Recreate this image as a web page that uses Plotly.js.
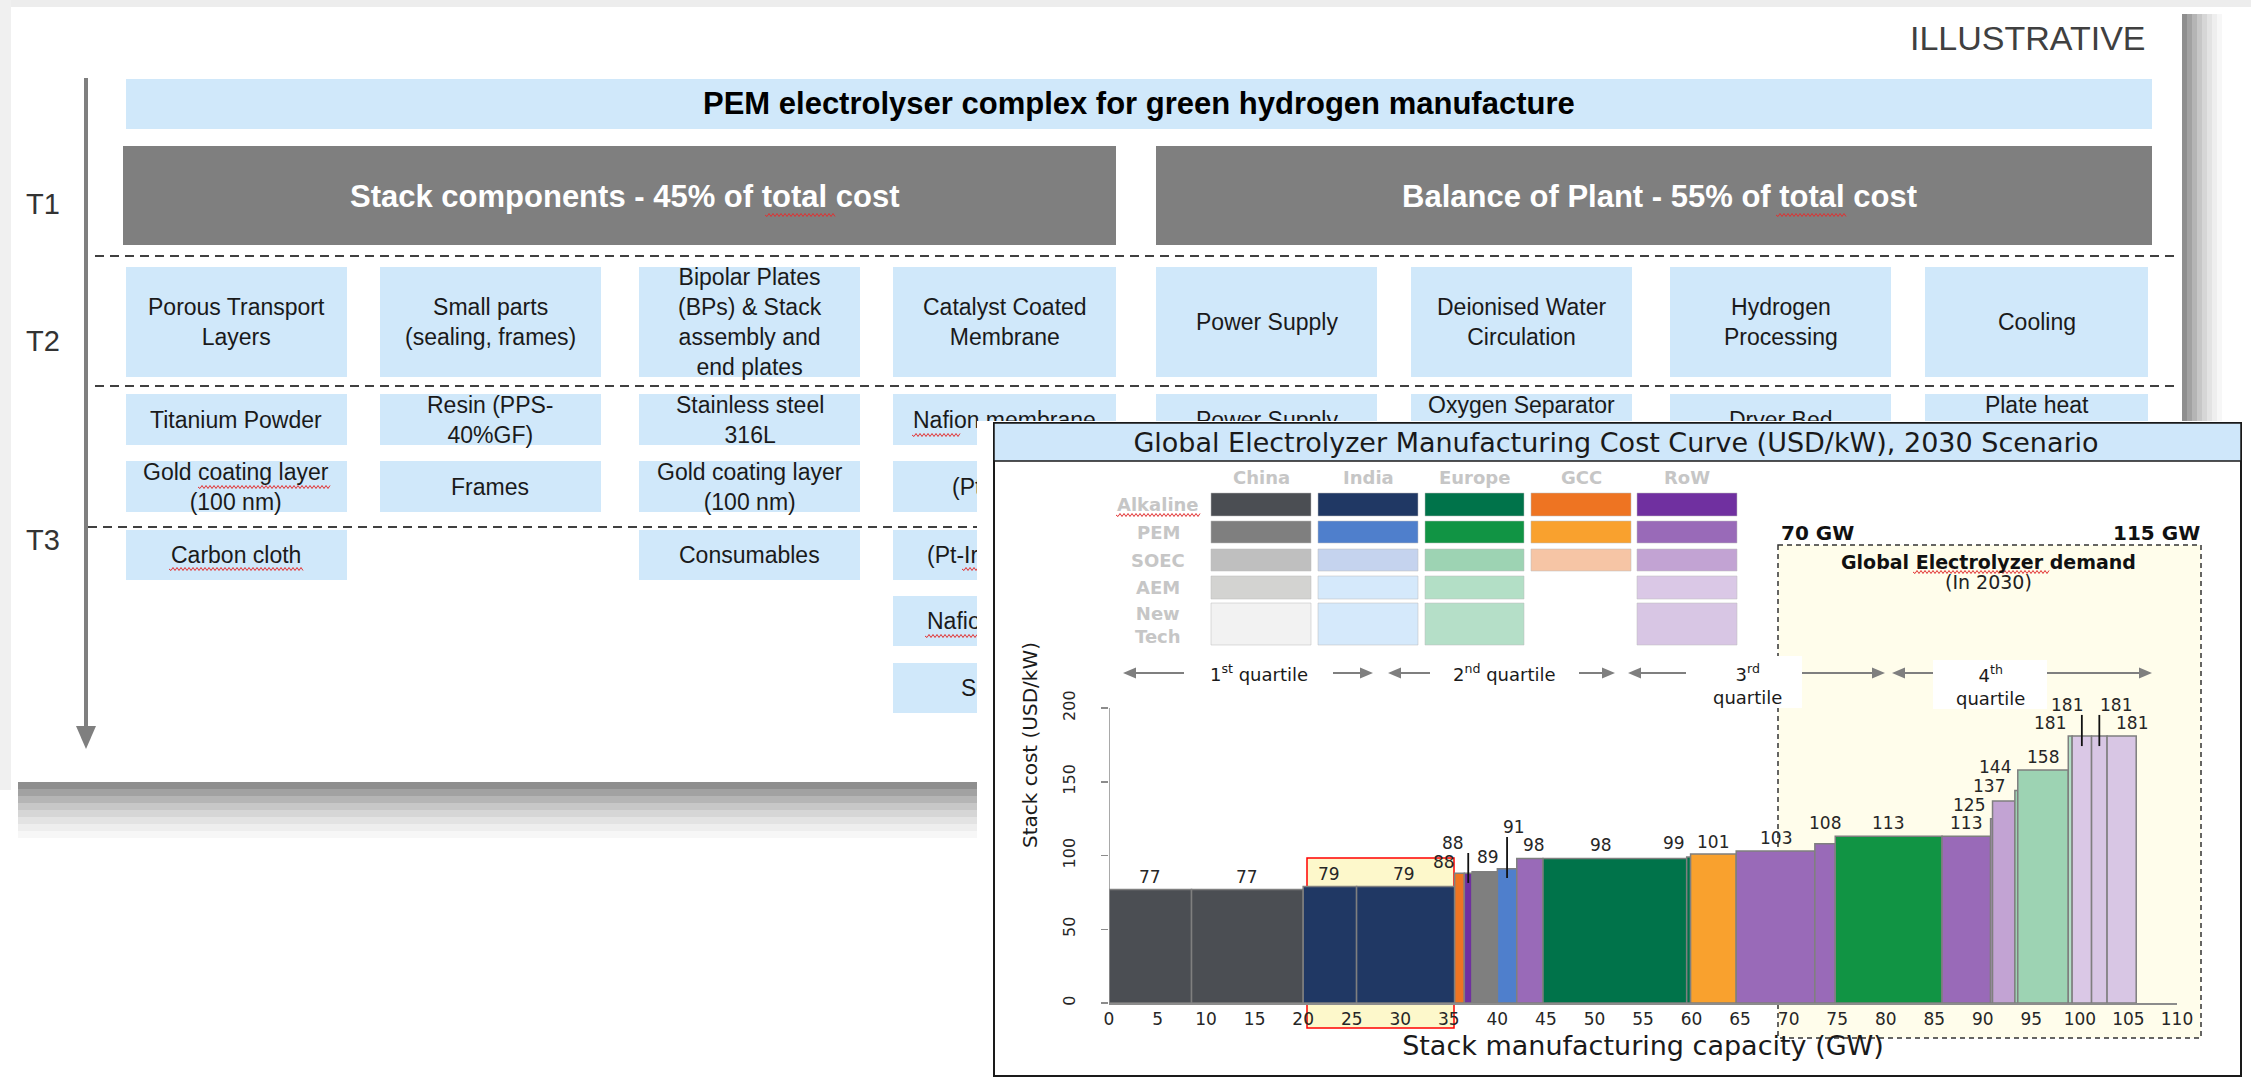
<!DOCTYPE html>
<html>
<head>
<meta charset="utf-8">
<script src="https://cdn.plot.ly/plotly-3.0.1.min.js"></script>
<style>
html,body{margin:0;padding:0;background:#ffffff;overflow:hidden}
#wrap{position:relative;width:2251px;height:1077px}
#slide,#chart{position:absolute;left:0;top:0;width:2251px;height:1077px}
</style>
</head>
<body>
<div id="wrap"><div id="slide"></div><div id="chart"></div></div>
<script>
// ================= DATA =================
// Slide (value-chain diagram) texts
const slideTag = 'ILLUSTRATIVE';
const headerTitle = 'PEM electrolyser complex for green hydrogen manufacture';
const tierLabels = ['T1', 'T2', 'T3'];
const t1Labels = ['Stack components - 45% of total cost', 'Balance of Plant - 55% of total cost'];
const t2Labels = ['Porous Transport<br>Layers', 'Small parts<br>(sealing, frames)', 'Bipolar Plates<br>(BPs) & Stack<br>assembly and<br>end plates',
  'Catalyst Coated<br>Membrane', 'Power Supply', 'Deionised Water<br>Circulation', 'Hydrogen<br>Processing', 'Cooling'];
const t3Labels = [
  ['Titanium Powder', 'Gold coating layer<br>(100 nm)', 'Carbon cloth'],
  ['Resin (PPS-<br>40%GF)', 'Frames'],
  ['Stainless steel<br>316L', 'Gold coating layer<br>(100 nm)', 'Consumables'],
  ['Nafion membrane', '(Pt based)', '(Pt-Ir) catalysts', 'Nafion ionomer', 'Solvents'],
  ['Power Supply'],
  ['Oxygen Separator<br>Tank'],
  ['Dryer Bed'],
  ['Plate heat<br>exchanger']
];

// Cost curve chart
const chartTitle = 'Global Electrolyzer Manufacturing Cost Curve (USD/kW), 2030 Scenario';
const regions = ['China', 'India', 'Europe', 'GCC', 'RoW'];
const technologies = ['Alkaline', 'PEM', 'SOEC', 'AEM', 'New<br>Tech'];
const barRegion = ['China','China','India','India','GCC','RoW','China','India','RoW','Europe','Europe','GCC',
  'RoW','RoW','Europe','RoW','RoW','RoW','Europe','Europe','Europe','RoW','RoW','RoW'];
const barTech = ['Alkaline','Alkaline','Alkaline','Alkaline','Alkaline','Alkaline','PEM','PEM','PEM','Alkaline','Alkaline','PEM',
  'PEM','PEM','PEM','PEM','SOEC','SOEC','SOEC','SOEC','AEM','AEM','New<br>Tech','New<br>Tech'];
const capacityGW = [8.5, 11.5, 5.5, 10.1, 1.0, 0.8, 2.6, 2.0, 2.7, 14.8, 0.4, 4.7, 8.1, 2.1, 11.0, 5.0, 0.2, 2.3, 0.3, 5.2, 0.4, 2.0, 1.6, 3.0];
const stackCostUSDkW = [77, 77, 79, 79, 88, 88, 89, 91, 98, 98, 99, 101, 103, 108, 113, 113, 125, 137, 144, 158, 181, 181, 181, 181];
const xTickVals = [0, 5, 10, 15, 20, 25, 30, 35, 40, 45, 50, 55, 60, 65, 70, 75, 80, 85, 90, 95, 100, 105, 110];
const yTickVals = [0, 50, 100, 150, 200];
const quartileLabels = ['1<sup>st</sup> quartile', '2<sup>nd</sup> quartile', '3<sup>rd</sup><br>quartile', '4<sup>th</sup><br>quartile'];
const demandLabels = ['70 GW', '115 GW'];
const demandTitle = ['Global Electrolyzer demand', '(In 2030)'];
const xTitle = 'Stack manufacturing capacity (GW)';
const yTitle = 'Stack cost (USD/kW)';

// ================= STYLE / LAYOUT =================
const W = 2251, H = 1077;
const px = x => x / W;
const py = y => 1 - y / H;
const FS = 'Liberation Sans, Arial, sans-serif';
const FC = 'DejaVu Sans, Verdana, sans-serif';

function rect(x0, y0, x1, y1, fill, line, layer) {
  return {type: 'rect', xref: 'paper', yref: 'paper', x0: px(x0), x1: px(x1), y0: py(y0), y1: py(y1),
    fillcolor: fill, line: line || {width: 0}, layer: layer || 'below'};
}
function hline(x0, x1, y, line, layer) {
  return {type: 'line', xref: 'paper', yref: 'paper', x0: px(x0), x1: px(x1), y0: py(y), y1: py(y), line: line, layer: layer || 'below'};
}
function txt(x, y, t, font, opts) {
  return Object.assign({xref: 'paper', yref: 'paper', x: px(x), y: py(y), text: t, showarrow: false,
    xanchor: 'center', yanchor: 'middle', font: font}, opts || {});
}
// spell-check style red wavy underline
function squiggle(x0, x1, y) {
  let p = `M ${px(x0)},${py(y)}`;
  let k = 0;
  for (let x = x0 + 2; x <= x1; x += 2) { k++; p += ` L ${px(x)},${py(y + (k % 2 ? 1.5 : -1.5))}`; }
  return {type: 'path', xref: 'paper', yref: 'paper', path: p, line: {color: '#e23030', width: 1}, layer: 'above'};
}

// ---------- slide ----------
const lightBlue = '#d0e8fa';
const slideShapes = [];
const slideAnn = [];
slideShapes.push(rect(0, 0, W, 7, '#ededed'));
slideShapes.push(rect(0, 0, 11, 790, '#f0f0f0'));
const shade = ['#8e8e8e', '#a2a2a2', '#b5b5b5', '#c7c7c7', '#d6d6d6', '#e3e3e3', '#eeeeee', '#f7f7f7'];
shade.forEach((c, i) => {
  slideShapes.push(rect(2182 + i * 5, 14, 2187 + i * 5, 445, c));
  slideShapes.push(rect(18, 782 + i * 7, 1000, 789 + i * 7, c));
});
slideShapes.push(rect(126, 79, 2152, 129, lightBlue));
const t1Box = [[123, 1116], [1156, 2152]];
t1Box.forEach((b, i) => {
  slideShapes.push(rect(b[0], 146, b[1], 245, '#7f7f7f'));
  slideAnn.push(txt((b[0] + b[1]) / 2 + 5, 196, '<b>' + t1Labels[i] + '</b>', {family: FS, size: 31, color: '#ffffff'}));
});
const dash = {color: '#404040', width: 2, dash: '9px,6px'};
slideShapes.push(hline(95, 2178, 256, dash));
slideShapes.push(hline(95, 2178, 386, dash));
slideShapes.push(hline(88, 2178, 527, dash));
const colX = [[126, 347], [380, 601], [639, 860], [893, 1116], [1156, 1377], [1411, 1632], [1670, 1891], [1925, 2148]];
const t3RowY = [[394, 445], [461, 512], [530, 580], [596, 646], [663, 713]];
const boxFont = {family: FS, size: 23, color: '#1a1a1a'};
colX.forEach((c, i) => {
  slideShapes.push(rect(c[0], 267, c[1], 377, lightBlue));
  slideAnn.push(txt((c[0] + c[1]) / 2, 322, t2Labels[i], boxFont));
  t3Labels[i].forEach((t, r) => {
    const ry = t3RowY[r];
    slideShapes.push(rect(c[0], ry[0], c[1], ry[1], lightBlue));
    slideAnn.push(txt((c[0] + c[1]) / 2, (ry[0] + ry[1]) / 2, t, boxFont));
  });
});
// vertical tier arrow
slideShapes.push({type: 'line', xref: 'paper', yref: 'paper', x0: px(86), x1: px(86), y0: py(78), y1: py(730),
  line: {color: '#7f7f7f', width: 4}, layer: 'below'});
slideShapes.push({type: 'path', xref: 'paper', yref: 'paper',
  path: `M ${px(76)},${py(726)} L ${px(96)},${py(726)} L ${px(86)},${py(749)} Z`,
  fillcolor: '#7f7f7f', line: {width: 0}, layer: 'below'});
// spell-check marks seen in the screenshot
[[765, 836, 215], [1776, 1847, 215], [198, 330, 487], [169, 303, 569], [912, 960, 435], [962, 978, 569], [925, 978, 636]]
  .forEach(s => slideShapes.push(squiggle(s[0], s[1], s[2])));
slideAnn.push(txt(1139, 104, '<b>' + headerTitle + '</b>', {family: FS, size: 31, color: '#000000'}));
slideAnn.push(txt(2148, 38, slideTag, {family: FS, size: 34, color: '#404040'}, {xanchor: 'right'}));
const tierY = [204, 341, 540];
tierLabels.forEach((t, i) => slideAnn.push(txt(43, tierY[i], t, {family: FS, size: 29, color: '#333333'})));

Plotly.newPlot('slide', [], {
  width: W, height: H, margin: {l: 0, r: 0, t: 0, b: 0},
  paper_bgcolor: '#ffffff', plot_bgcolor: 'rgba(0,0,0,0)',
  xaxis: {visible: false}, yaxis: {visible: false},
  shapes: slideShapes, annotations: slideAnn, showlegend: false
}, {staticPlot: true, displayModeBar: false});

// ---------- chart ----------
const techColors = {
  'China':  ['#4b4e53', '#7f7f7f', '#bfbfbf', '#d3d3d1', '#f2f2f2'],
  'India':  ['#203864', '#4f7fcc', '#c5d3ee', '#d5e9fb', '#d5e9fb'],
  'Europe': ['#00734a', '#119444', '#9dd3b3', '#b3dfc6', '#b5dfc8'],
  'GCC':    ['#ee7422', '#f9a12e', '#f6c5a5', null, null],
  'RoW':    ['#7030a0', '#996ab8', '#c2a3d3', '#dac8e6', '#d8c6e4']
};
const colorOf = (r, t) => techColors[r][technologies.indexOf(t)];

// layout arrays for label placement (GW, USD/kW)
const labelGW = [4.2, 14.2, 22.7, 30.4, 34.5, 35.4, 39.0, 41.7, 43.8, 50.7, 58.2, 62.2, 68.7, 73.7, 80.2, 88.3, 88.6, 90.6, 91.3, 96.2, 96.9, 98.7, 103.7, 105.4];
const labelCost = [85.4, 85.4, 87.5, 87.5, 95.6, 108.5, 99.0, 119.3, 107.1, 107.1, 108.5, 109.2, 111.9, 122, 122, 122, 134.2, 147.1, 160, 166.8, 189.8, 202, 202, 189.8];
const leaders = [[5, 81.4, 101.7], [7, 84.7, 112.5], [21, 174.2, 195.3], [22, 174.2, 195.3]];

const starts = [];
let acc = 0;
capacityGW.forEach(w => { starts.push(acc); acc += w; });
const centers = starts.map((s, i) => s + capacityGW[i] / 2);
const barColors = barRegion.map((r, i) => colorOf(r, barTech[i]));

const x0px = 1109, x110px = 2177, y0px = 1003, y200px = 708, yTopPx = 487;
const yPerUnit = (y0px - y200px) / 200;
const yTopVal = (y0px - yTopPx) / yPerUnit;

const cShapes = [];
const cAnn = [];
// panel (white image area slightly larger than its border)
cShapes.push(rect(977, 421, 2244, 1077, '#ffffff'));
cShapes.push(rect(994, 423, 2241, 1076, '#ffffff', {color: '#1a1a1a', width: 2}));
cShapes.push(rect(994, 423, 2241, 461, '#cfe7fa', {color: '#1a1a1a', width: 1.5}));
// demand region
cShapes.push(rect(1778, 545, 2201, 1038, '#fffdeb', {color: '#333333', width: 1.5, dash: '5px,4px'}));
// white label boxes for 3rd / 4th quartile
cShapes.push(rect(1700, 656, 1802, 708, '#ffffff'));
cShapes.push(rect(1933, 660, 2047, 709, '#ffffff'));
// highlight rectangle (India)
cShapes.push(rect(1307, 858, 1454, 1028, '#fdf8cb', {color: '#ff0000', width: 1.5}));
// legend grid
const legColX = [[1211, 1311], [1318, 1418], [1425, 1524], [1531, 1631], [1637, 1737]];
const legRowY = [[493, 516], [521, 543], [549, 571], [576, 599], [603, 645]];
const legFont = {family: FC, size: 18, color: '#c6c6c6'};
regions.forEach((r, ci) => {
  const cx = legColX[ci];
  cAnn.push(txt((cx[0] + cx[1]) / 2, 477, '<b>' + r + '</b>', legFont));
  technologies.forEach((t, ri) => {
    const c = colorOf(r, t);
    if (!c) return;
    const ry = legRowY[ri];
    cShapes.push(rect(cx[0], ry[0], cx[1], ry[1], c, {color: 'rgba(190,190,190,0.5)', width: 1}));
  });
});
technologies.forEach((t, ri) => {
  const ry = legRowY[ri];
  cAnn.push(txt(1158, (ry[0] + ry[1]) / 2 + (ri === 4 ? 1 : 0), '<b>' + t + '</b>', legFont));
});
// quartile arrows (drawn as line + triangular head)
const arrowCol = '#7f7f7f';
[[1184, 1123], [1333, 1373], [1430, 1388], [1579, 1615], [1686, 1628], [1802, 1885], [1933, 1892], [2047, 2152]]
  .forEach(a => {
    const tail = a[0], head = a[1], d = head > tail ? 1 : -1, yA = 673;
    cShapes.push(hline(tail, head - d * 10, yA, {color: arrowCol, width: 2}, 'above'));
    cShapes.push({type: 'path', xref: 'paper', yref: 'paper', layer: 'above',
      path: `M ${px(head)},${py(yA)} L ${px(head - d * 13)},${py(yA - 5.5)} L ${px(head - d * 13)},${py(yA + 5.5)} Z`,
      fillcolor: arrowCol, line: {width: 0}});
  });
// y axis line (0-200)
cShapes.push({type: 'line', xref: 'x', yref: 'y', x0: 0, x1: 0, y0: 0, y1: 200, line: {color: '#8c8c8c', width: 1.5}, layer: 'above'});
// leader lines
leaders.forEach(l => cShapes.push({type: 'line', xref: 'x', yref: 'y', x0: centers[l[0]], x1: centers[l[0]], y0: l[1], y1: l[2],
  line: {color: '#111111', width: 1.8}, layer: 'above'}));
// spell-check marks
cShapes.push(squiggle(1116, 1200, 515));
cShapes.push(squiggle(1913, 2050, 572));

// bar labels
const valFont = {family: FC, size: 17, color: '#262626'};
stackCostUSDkW.forEach((v, i) => cAnn.push({xref: 'x', yref: 'y', x: labelGW[i], y: labelCost[i], text: String(v),
  showarrow: false, xanchor: 'center', yanchor: 'middle', font: valFont}));

const qFont = {family: FC, size: 18, color: '#1a1a1a'};
cAnn.push(txt(1259, 673, quartileLabels[0], qFont));
cAnn.push(txt(1504, 673, quartileLabels[1], qFont));
cAnn.push(txt(1747, 684, quartileLabels[2], qFont));
cAnn.push(txt(1990, 685, quartileLabels[3], qFont));
// demand labels
const bFont = {family: FC, size: 20, color: '#111111'};
cAnn.push(txt(1779, 533, '<b>' + demandLabels[0] + '</b>', bFont, {xanchor: 'left'}));
cAnn.push(txt(2202, 533, '<b>' + demandLabels[1] + '</b>', bFont, {xanchor: 'right'}));
cAnn.push(txt(1988, 562, '<b>' + demandTitle[0] + '</b>', {family: FC, size: 19, color: '#111111'}));
cAnn.push(txt(1988, 582, demandTitle[1], {family: FC, size: 19, color: '#222222'}));

const barTrace = {
  type: 'bar', x: centers, y: stackCostUSDkW, width: capacityGW,
  marker: {color: barColors, line: {color: '#7f7f7f', width: 1.5}},
  hoverinfo: 'skip', showlegend: false
};

Plotly.newPlot('chart', [barTrace], {
  width: W, height: H, margin: {l: 0, r: 0, t: 0, b: 0},
  paper_bgcolor: 'rgba(0,0,0,0)', plot_bgcolor: 'rgba(0,0,0,0)',
  title: {text: chartTitle, x: px(1616), y: py(443), xref: 'paper', yref: 'paper', xanchor: 'center', yanchor: 'middle',
    font: {family: FC, size: 27, color: '#1a1a1a'}},
  xaxis: {domain: [px(x0px), px(x110px)], range: [0, 110], tickmode: 'array', tickvals: xTickVals,
    ticktext: xTickVals.map(String), ticks: '', showline: true, linecolor: '#8c8c8c', linewidth: 1.5,
    showgrid: false, zeroline: false, tickfont: {family: FC, size: 17, color: '#262626'},
    title: {text: xTitle, font: {family: FC, size: 27, color: '#1a1a1a'}, standoff: 8}, automargin: false},
  yaxis: {domain: [py(y0px), py(yTopPx)], range: [0, yTopVal], tickmode: 'array', tickvals: yTickVals,
    ticktext: yTickVals.map(String), ticks: 'outside', ticklen: 7, tickwidth: 1.5, tickcolor: '#8c8c8c',
    tickangle: -90, ticklabelstandoff: 20, showline: false, showgrid: false, zeroline: false,
    tickfont: {family: FC, size: 16, color: '#262626'},
    title: {text: yTitle, font: {family: FC, size: 20, color: '#1a1a1a'}, standoff: 16}, automargin: false},
  shapes: cShapes, annotations: cAnn, showlegend: false, bargap: 0
}, {staticPlot: true, displayModeBar: false});
</script>
</body>
</html>
